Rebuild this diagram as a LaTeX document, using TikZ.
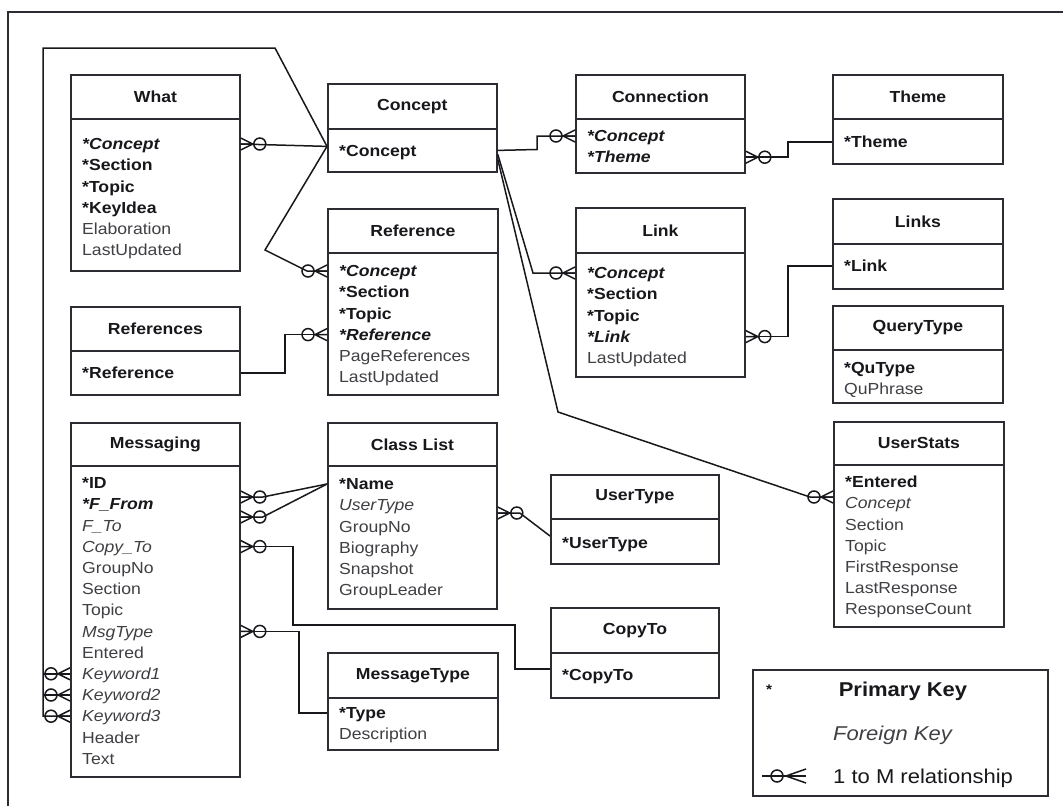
\documentclass[tikz,border=0pt]{standalone}
\usepackage{fontspec}
\setmainfont{Liberation Sans}[FakeStretch=1.1]
\usetikzlibrary{calc}

\definecolor{boxline}{RGB}{44,44,50}
\definecolor{ink}{RGB}{24,24,28}
\definecolor{softink}{RGB}{64,64,68}

\tikzset{
  tabhead/.style={draw=boxline, fill=white, line width=1.8pt, rectangle, inner sep=0pt,
    anchor=north west, text=ink, font=\fontsize{16}{19}\selectfont\bfseries},
  tabbody/.style={draw=boxline, fill=white, line width=1.8pt, rectangle, inner sep=0pt,
    anchor=north west},
  attr/.style={anchor=west, inner sep=0pt, text height=11.5pt, text depth=0pt},
  pk/.style={attr, text=ink, font=\fontsize{16}{19}\selectfont\bfseries},
  pkfk/.style={attr, text=ink, font=\fontsize{16}{19}\selectfont\bfseries\itshape},
  fk/.style={attr, text=softink, font=\fontsize{16}{19}\selectfont\itshape},
  plain/.style={attr, text=softink, font=\fontsize{16}{19}\selectfont},
  conn/.style={draw=ink, line width=1.5pt},
  frameline/.style={draw=boxline, line width=2pt},
  crow/.pic={
    \draw[conn] (0,-6) -- (12,0) -- (0,6) (0,0) -- (12,0);
    \draw[conn] (19,0) circle[radius=6pt];
  }
}

% #1 name, #2 left, #3 top, #4 right, #5 header rule, #6 bottom,
% #7 title, #8 centre of first attribute row, #9 attributes (style/text)
\newcommand\erentity[9]{%
  \node[tabhead, minimum width={(#4-#2)*1pt}, minimum height={(#5-#3)*1pt}] (#1-h) at (#2,#3) {#7};
  \node[tabbody, minimum width={(#4-#2)*1pt}, minimum height={(#6-#5)*1pt}] (#1) at (#2,#5) {};
  \foreach \rowstyle/\rowtext [count=\k] in {#9} {
    \node[\rowstyle] (#1-\k) at ({#2+12},{#8+(\k-1)*21.2}) {\rowtext};
  }%
}

\begin{document}
\begin{tikzpicture}[x=1pt,y=-1pt]
\useasboundingbox (0,0) rectangle (1063,806);

% outer frame
\draw[frameline] (8,806) -- (8,12) -- (1063,12);

% tables
\erentity{what}{70}{74}{239}{118}{270}{What}{144}
  {pkfk/*Concept, pk/*Section, pk/*Topic, pk/*KeyIdea, plain/Elaboration, plain/LastUpdated}
\erentity{concept}{327}{83}{496}{128}{171}{Concept}{151}
  {pk/*Concept}
\erentity{reference}{327}{208}{497}{252}{394}{Reference}{271}
  {pkfk/*Concept, pk/*Section, pk/*Topic, pkfk/*Reference, plain/PageReferences, plain/LastUpdated}
\erentity{connection}{575}{74}{744}{118}{172}{Connection}{136}
  {pkfk/*Concept, pkfk/*Theme}
\erentity{theme}{832}{74}{1002}{118}{163}{Theme}{142}
  {pk/*Theme}
\erentity{link}{575}{207}{744}{252}{376}{Link}{273}
  {pkfk/*Concept, pk/*Section, pk/*Topic, pkfk/*Link, plain/LastUpdated}
\erentity{links}{832}{198}{1002}{243}{288}{Links}{266}
  {pk/*Link}
\erentity{querytype}{832}{305}{1002}{349}{402}{QueryType}{368}
  {pk/*QuType, plain/QuPhrase}
\erentity{userstats}{833}{421}{1003}{464}{626}{UserStats}{482}
  {pk/*Entered, fk/Concept, plain/Section, plain/Topic, plain/FirstResponse, plain/LastResponse, plain/ResponseCount}
\erentity{references}{70}{306}{239}{350}{394}{References}{373}
  {pk/*Reference}
\erentity{messaging}{70}{422}{239}{465}{776}{Messaging}{483}
  {pk/*ID, pkfk/*F\_From, fk/F\_To, fk/Copy\_To, plain/GroupNo, plain/Section, plain/Topic,
   fk/MsgType, plain/Entered, fk/Keyword1, fk/Keyword2, fk/Keyword3, plain/Header, plain/Text}
\erentity{classlist}{327}{422}{496}{465}{608}{Class List}{484}
  {pk/*Name, fk/UserType, plain/GroupNo, plain/Biography, plain/Snapshot, plain/GroupLeader}
\erentity{usertype}{550}{474}{718}{518}{563}{UserType}{543}
  {pk/*UserType}
\erentity{copyto}{550}{607}{718}{652}{697}{CopyTo}{675}
  {pk/*CopyTo}
\erentity{messagetype}{327}{652}{497}{697}{749}{MessageType}{713}
  {pk/*Type, plain/Description}

% ports on the Concept table
\coordinate (cj)  at ($(concept.west)+(0,-4)$);
\coordinate (ce1) at (concept.east);
\coordinate (ce2) at ($(concept.east)+(0,4)$);
\coordinate (ce3) at ($(concept.east)+(0,9)$);

% ports on the many side of each relationship
\coordinate (p-what)   at (what.east |- what-1);
\coordinate (p-ref)    at (reference.west |- reference-1);
\coordinate (p-refs)   at (reference.west |- reference-4);
\coordinate (p-conn)   at (connection.west |- connection-1);
\coordinate (p-conn2)  at (connection.east |- connection-2);
\coordinate (p-link)   at (link.west |- link-1);
\coordinate (p-link2)  at (link.east |- link-4);
\coordinate (p-stats)  at (userstats.west |- 0,497);
\coordinate (p-kw1)    at (messaging.west |- messaging-10);
\coordinate (p-kw2)    at (messaging.west |- messaging-11);
\coordinate (p-kw3)    at (messaging.west |- messaging-12);
\coordinate (p-from1)  at (messaging.east |- 0,497);
\coordinate (p-from2)  at (messaging.east |- 0,517);
\coordinate (p-copy)   at (messaging.east |- messaging-4);
\coordinate (p-msg)    at (messaging.east |- messaging-8);
\coordinate (p-utype)  at (classlist.east |- 0,513);

% relationships
\draw[conn] (p-what) -- (cj);
\draw[conn] (cj) -- (265,250) -- ($(p-ref)+(-20,0)$) -- (p-ref);
\draw[conn] (cj) -- (275,48) -| ($(p-kw3)+(-27,0)$) -- (p-kw3);
\draw[conn] ($(p-kw1)+(-27,0)$) -- (p-kw1);
\draw[conn] ($(p-kw2)+(-27,0)$) -- (p-kw2);
\draw[conn] (ce1) -- (537,149.5) |- (p-conn);
\draw[conn] (ce2) -- ($(p-link)+(-42,0)$) -- (p-link);
\draw[conn] (ce3) -- (558,412) -- ($(p-stats)+(-23,0)$) -- (p-stats);
\draw[conn] (p-conn2) -- ++(42,0) |- (theme.west |- theme-1);
\draw[conn] (p-link2) -- ++(42,0) |- (links.west |- links-1);
\draw[conn] (references.east |- references-1) -- ++(44,0) |- (p-refs);
\draw[conn] (p-from1) -- ++(22,0) -- (classlist.west |- classlist-1);
\draw[conn] (p-from2) -- ++(22,0) -- (classlist.west |- classlist-1);
\draw[conn] (p-copy) -| (293,625) -| (515,669) -- (copyto.west |- 0,669);
\draw[conn] (p-msg) -- ++(58,0) |- (messagetype.west |- messagetype-1);
\draw[conn] (p-utype) -- ++(22,0) -- (usertype.west |- 0,536);

% crow's feet with optional circle
\foreach \p in {p-what, p-conn2, p-link2, p-from1, p-from2, p-copy, p-msg, p-utype}
  \pic at (\p) {crow};
\foreach \p in {p-ref, p-refs, p-conn, p-link, p-stats, p-kw1, p-kw2, p-kw3}
  \pic[xscale=-1] at (\p) {crow};

% legend
\node[tabbody, minimum width=295pt, minimum height=126pt] (legend) at (752,669) {};
\node[inner sep=0pt, text=ink, font=\fontsize{14}{16}\selectfont\bfseries] (lg-star) at (769,690) {*};
\node[inner sep=0pt, text=ink, font=\fontsize{20}{24}\selectfont\bfseries] (lg-pk) at (903,691) {Primary Key};
\node[attr, text height=14.5pt, text=softink, font=\fontsize{20}{24}\selectfont\itshape] (lg-fk) at (833,733) {Foreign Key};
\node[attr, text height=14.5pt, text=ink, font=\fontsize{20}{24}\selectfont] (lg-rel) at (833,776) {1 to M relationship};
\coordinate (lg-a) at (762,776);
\coordinate (lg-b) at (806,776);
\draw[conn] (lg-a) -- (lg-b);
\draw[conn] (777,776) circle[radius=6pt];
\draw[conn] ($(lg-b)+(0,-7)$) -- (786,776) -- ($(lg-b)+(0,7)$);
\end{tikzpicture}
\end{document}
